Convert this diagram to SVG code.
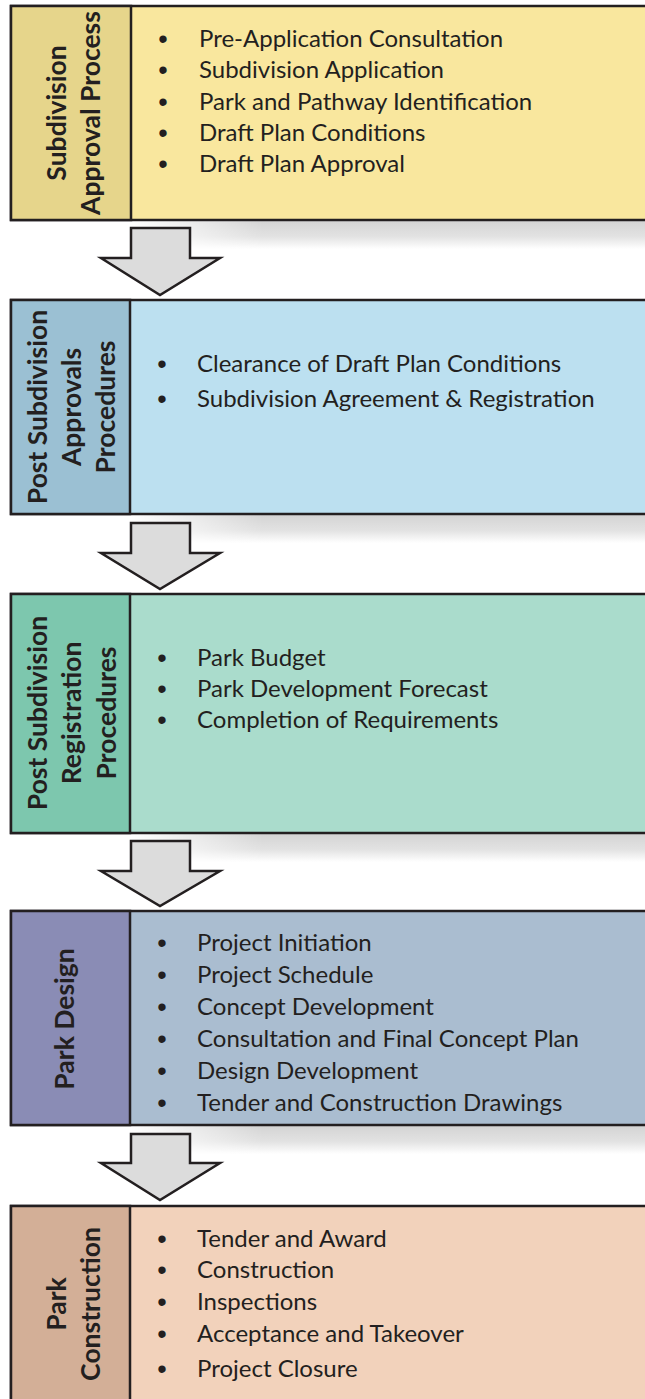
<svg xmlns="http://www.w3.org/2000/svg" width="645" height="1399" viewBox="0 0 645 1399">
<style>
.box{stroke:#231f20;stroke-width:2.5}
.item{font-family:Lato,"Liberation Sans",sans-serif;font-size:24px;fill:#231f20}
.bul{font-family:"Liberation Sans",sans-serif;font-size:27px;fill:#231f20;text-anchor:middle}
.lab{font-family:Lato,"Liberation Sans",sans-serif;font-size:26.5px;font-weight:bold;fill:#231f20;text-anchor:middle}
.arrow{fill:#dcdcdc;stroke:#231f20;stroke-width:2.5;stroke-linejoin:miter}
.shadow{fill:url(#shV)}
</style>
<defs>
<linearGradient id="shV" x1="0" y1="0" x2="0" y2="1">
<stop offset="0" stop-color="#d4d4d4"/>
<stop offset="0.55" stop-color="#e2e2e2"/>
<stop offset="1" stop-color="#ffffff"/>
</linearGradient>
<linearGradient id="fadeH" x1="0" y1="0" x2="1" y2="0">
<stop offset="0" stop-color="#000"/>
<stop offset="0.25" stop-color="#fff"/>
<stop offset="1" stop-color="#fff"/>
</linearGradient>
<mask id="shMask" maskContentUnits="objectBoundingBox">
<rect width="1" height="1" fill="url(#fadeH)"/>
</mask>
</defs>
<rect width="645" height="1399" fill="#fff"/>

<g id="shadows">
<rect class="shadow" x="130" y="221" width="530" height="28" mask="url(#shMask)"/>
<rect class="shadow" x="130" y="515" width="530" height="28" mask="url(#shMask)"/>
<rect class="shadow" x="130" y="834" width="530" height="28" mask="url(#shMask)"/>
<rect class="shadow" x="130" y="1126" width="530" height="28" mask="url(#shMask)"/>
</g>

<g id="connectors">
<polygon class="arrow" points="131,228 190,228 190,258 220,258 160,295 101,258 131,258"/>
<polygon class="arrow" points="131,523 190,523 190,553 220,553 160,589 101,553 131,553"/>
<polygon class="arrow" points="131,841 190,841 190,871 220,871 160,906 101,871 131,871"/>
<polygon class="arrow" points="131,1134 190,1134 190,1163 220,1163 160,1200 101,1163 131,1163"/>
</g>

<g id="node1">
<rect class="box" x="11" y="6" width="660" height="214" fill="#f9e79e"/>
<rect class="box" x="11" y="6" width="120" height="214" fill="#e6d58b"/>
<text class="lab" transform="translate(66,113) rotate(-90)">Subdivision</text>
<text class="lab" transform="translate(100,113) rotate(-90)">Approval Process</text>
<text class="bul" x="163" y="48">•</text><text class="item" x="199" y="47">Pre-Application Consultation</text>
<text class="bul" x="163" y="79">•</text><text class="item" x="199" y="78">Subdivision Application</text>
<text class="bul" x="163" y="111">•</text><text class="item" x="199" y="110">Park and Pathway Identification</text>
<text class="bul" x="163" y="142">•</text><text class="item" x="199" y="141">Draft Plan Conditions</text>
<text class="bul" x="163" y="173">•</text><text class="item" x="199" y="172">Draft Plan Approval</text>
</g>

<g id="node2">
<rect class="box" x="11" y="300" width="660" height="214" fill="#bce0f0"/>
<rect class="box" x="11" y="300" width="119" height="214" fill="#9bc0d3"/>
<text class="lab" transform="translate(47,407) rotate(-90)">Post Subdivision</text>
<text class="lab" transform="translate(81,407) rotate(-90)">Approvals</text>
<text class="lab" transform="translate(115,407) rotate(-90)">Procedures</text>
<text class="bul" x="162" y="373">•</text><text class="item" x="197" y="372">Clearance of Draft Plan Conditions</text>
<text class="bul" x="162" y="408">•</text><text class="item" x="197" y="407">Subdivision Agreement &amp; Registration</text>
</g>

<g id="node3">
<rect class="box" x="11" y="594" width="660" height="239" fill="#aadccc"/>
<rect class="box" x="11" y="594" width="119" height="239" fill="#7dc7ae"/>
<text class="lab" transform="translate(47,713) rotate(-90)">Post Subdivision</text>
<text class="lab" transform="translate(81,713) rotate(-90)">Registration</text>
<text class="lab" transform="translate(116,713) rotate(-90)">Procedures</text>
<text class="bul" x="162" y="667">•</text><text class="item" x="197" y="666">Park Budget</text>
<text class="bul" x="162" y="698">•</text><text class="item" x="197" y="697">Park Development Forecast</text>
<text class="bul" x="162" y="729">•</text><text class="item" x="197" y="728">Completion of Requirements</text>
</g>

<g id="node4">
<rect class="box" x="11" y="911" width="660" height="214" fill="#aabdd0"/>
<rect class="box" x="11" y="911" width="119" height="214" fill="#8a8cb5"/>
<text class="lab" transform="translate(74,1019) rotate(-90)">Park Design</text>
<text class="bul" x="162" y="952">•</text><text class="item" x="197" y="951">Project Initiation</text>
<text class="bul" x="162" y="984">•</text><text class="item" x="197" y="983">Project Schedule</text>
<text class="bul" x="162" y="1016">•</text><text class="item" x="197" y="1015">Concept Development</text>
<text class="bul" x="162" y="1048">•</text><text class="item" x="197" y="1047">Consultation and Final Concept Plan</text>
<text class="bul" x="162" y="1080">•</text><text class="item" x="197" y="1079">Design Development</text>
<text class="bul" x="162" y="1112">•</text><text class="item" x="197" y="1111">Tender and Construction Drawings</text>
</g>

<g id="node5">
<rect class="box" x="11" y="1206" width="660" height="210" fill="#f2d2bb"/>
<rect class="box" x="11" y="1206" width="119" height="210" fill="#d3af97"/>
<text class="lab" transform="translate(66,1304) rotate(-90)">Park</text>
<text class="lab" transform="translate(100,1304) rotate(-90)">Construction</text>
<text class="bul" x="162" y="1248">•</text><text class="item" x="197" y="1247">Tender and Award</text>
<text class="bul" x="162" y="1279">•</text><text class="item" x="197" y="1278">Construction</text>
<text class="bul" x="162" y="1311">•</text><text class="item" x="197" y="1310">Inspections</text>
<text class="bul" x="162" y="1343">•</text><text class="item" x="197" y="1342">Acceptance and Takeover</text>
<text class="bul" x="162" y="1378">•</text><text class="item" x="197" y="1377">Project Closure</text>
</g>
</svg>
